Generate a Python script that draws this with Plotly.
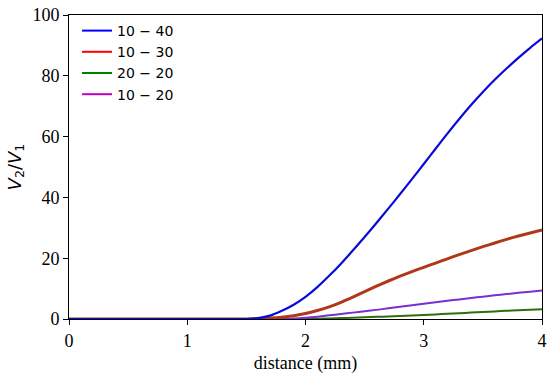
import plotly.graph_objects as go

# distance (mm)
x = [0.0, 1.0, 1.5, 1.6, 1.7, 1.8, 1.9, 2.0, 2.1, 2.2, 2.3, 2.4, 2.5, 2.6, 2.7, 2.8, 2.9,
     3.0, 3.1, 3.2, 3.3, 3.4, 3.5, 3.6, 3.7, 3.8, 3.9, 4.0]

v_10_40 = [0.0, 0.0, 0.0, 0.3, 1.1, 2.7, 4.7, 7.3, 10.5, 14.2, 18.2, 22.5, 27.0, 31.6, 36.3,
           41.1, 46.0, 51.0, 56.0, 61.0, 65.8, 70.4, 74.7, 78.7, 82.4, 85.9, 89.2, 92.3]
v_10_30 = [0.0, 0.0, 0.0, 0.1, 0.3, 0.6, 1.1, 1.8, 2.8, 4.0, 5.5, 7.2, 9.0, 10.8, 12.5,
           14.1, 15.6, 17.0, 18.4, 19.8, 21.2, 22.5, 23.8, 25.0, 26.2, 27.3, 28.3, 29.3]
v_20_20 = [0.0, 0.0, 0.0, 0.0, 0.0, 0.0, 0.0, 0.05, 0.1, 0.2, 0.3, 0.4, 0.55, 0.7, 0.85,
           1.0, 1.17, 1.35, 1.52, 1.7, 1.9, 2.1, 2.3, 2.5, 2.68, 2.85, 3.03, 3.2]
v_10_20 = [0.0, 0.0, 0.0, 0.0, 0.0, 0.05, 0.15, 0.4, 0.75, 1.2, 1.65, 2.1, 2.55, 3.0, 3.5,
           4.0, 4.5, 5.0, 5.5, 6.0, 6.45, 6.9, 7.35, 7.8, 8.2, 8.6, 9.0, 9.4]

names = ["10 \u2212 40", "10 \u2212 30", "20 \u2212 20", "10 \u2212 20"]
series = [v_10_40, v_10_30, v_20_20, v_10_20]
line_colors = ["#0a0ad8", "#b03818", "#2f6e0c", "#7a2fd0"]
line_widths = [2.2, 3.0, 2.0, 2.0]
legend_colors = ["#0000ff", "#ff0000", "#008000", "#c000c0"]

x_ticks = [0, 1, 2, 3, 4]
y_ticks = [0, 20, 40, 60, 80, 100]

fig = go.Figure()
draw_order = [2, 3, 1, 0]
for i in draw_order:
    fig.add_trace(go.Scatter(x=x, y=series[i], mode="lines",
                             line=dict(color=line_colors[i], width=line_widths[i], shape="spline", smoothing=0.6),
                             showlegend=False, legendgroup=names[i], hoverinfo="skip"))
for name, lg in zip(names, legend_colors):
    fig.add_trace(go.Scatter(x=[None], y=[None], mode="lines", name=name,
                             line=dict(color=lg, width=2), legendgroup=name))

axis_common = dict(showline=True, linecolor="black", linewidth=1, mirror=True,
                   ticks="outside", ticklen=5, tickcolor="black", tickwidth=1,
                   showgrid=False, zeroline=False, automargin=False,
                   tickfont=dict(family="Liberation Serif", size=18, color="black"))

fig.update_layout(
    width=550, height=374,
    margin=dict(l=69, r=8, t=15, b=55),
    plot_bgcolor="white", paper_bgcolor="white",
    xaxis=dict(range=[0, 4], tickvals=x_ticks,
               title=dict(text="distance (mm)", standoff=8,
                          font=dict(family="Liberation Serif", size=18, color="black")),
               **axis_common),
    yaxis=dict(range=[0, 100], tickvals=y_ticks,
               title=dict(text="<i>V</i><sub>2</sub>/<i>V</i><sub>1</sub>", standoff=6,
                          font=dict(family="DejaVu Sans", size=18, color="black")),
               **axis_common),
    legend=dict(x=0.017, y=1.0, xanchor="left", yanchor="top",
                bgcolor="rgba(0,0,0,0)", borderwidth=0,
                font=dict(family="DejaVu Sans", size=14, color="black"),
                tracegroupgap=0, itemwidth=30),
)

fig.write_html("out.html", config={"displayModeBar": False},
               post_script="document.body.style.margin='0';")
